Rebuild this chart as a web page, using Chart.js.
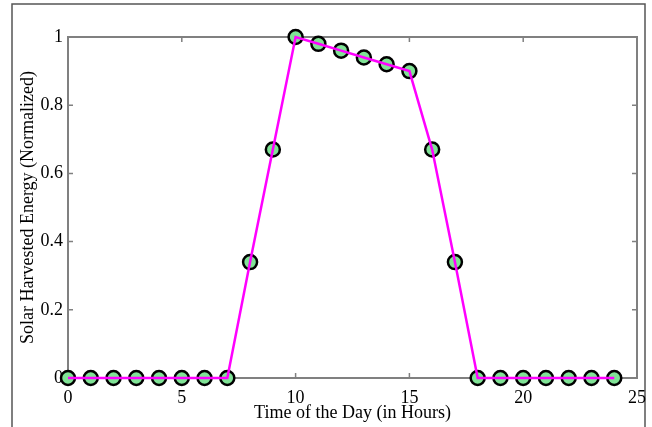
<!DOCTYPE html>
<html>
<head>
<meta charset="utf-8">
<script src="https://cdn.jsdelivr.net/npm/chart.js@4.4.1/dist/chart.umd.min.js"></script>
<style>
  html, body { margin: 0; padding: 0; background: #fff; }
  #wrap { width: 652px; height: 427px; position: relative; }
</style>
</head>
<body>
<div id="wrap"><canvas id="energyChart" width="652" height="427"></canvas></div>
<script>
// hour of day and normalized harvested energy
const hours = [0, 1, 2, 3, 4, 5, 6, 7, 8, 9, 10, 11, 12, 13, 14, 15, 16, 17, 18, 19, 20, 21, 22, 23, 24];
const energy = [0, 0, 0, 0, 0, 0, 0, 0, 0.34, 0.67, 1.0, 0.98, 0.96, 0.94, 0.92, 0.90, 0.67, 0.34, 0, 0, 0, 0, 0, 0, 0];
const xTicks = [0, 5, 10, 15, 20, 25];
const yTicks = [0, 0.2, 0.4, 0.6, 0.8, 1];

const points = hours.map((h, i) => ({ x: h, y: energy[i] }));
const serif = "'Liberation Serif', 'Times New Roman', serif";

// outer frame + matlab-style box with inward ticks on all four sides
const boxPlugin = {
  id: "boxPlugin",
  beforeDraw(chart) {
    const ctx = chart.ctx;
    ctx.save();
    ctx.strokeStyle = "#555";
    ctx.lineWidth = 1.5;
    ctx.beginPath();
    ctx.moveTo(12, 440);
    ctx.lineTo(12, 4);
    ctx.lineTo(645, 4);
    ctx.lineTo(645, 440);
    ctx.stroke();
    ctx.restore();
  },
  beforeDatasetsDraw(chart) {
    const { ctx, chartArea: a, scales } = chart;
    const len = 5;
    ctx.save();
    ctx.strokeStyle = "#808080";
    ctx.lineWidth = 2;
    ctx.strokeRect(a.left, a.top, a.right - a.left, a.bottom - a.top);
    ctx.lineWidth = 1.5;
    ctx.beginPath();
    xTicks.forEach(v => {
      const px = scales.x.getPixelForValue(v);
      ctx.moveTo(px, a.bottom); ctx.lineTo(px, a.bottom - len);
      ctx.moveTo(px, a.top); ctx.lineTo(px, a.top + len);
    });
    yTicks.forEach(v => {
      const py = scales.y.getPixelForValue(v);
      ctx.moveTo(a.left, py); ctx.lineTo(a.left + len, py);
      ctx.moveTo(a.right, py); ctx.lineTo(a.right - len, py);
    });
    ctx.stroke();
    ctx.restore();
  }
};

new Chart(document.getElementById("energyChart"), {
  type: "scatter",
  data: {
    datasets: [
      {
        // markers underneath
        data: points,
        showLine: false,
        clip: false,
        pointRadius: 7,
        pointBorderWidth: 2.5,
        pointBackgroundColor: "#80e396",
        pointBorderColor: "#000",
        order: 2
      },
      {
        // magenta line on top of the markers
        data: points,
        showLine: true,
        clip: false,
        borderColor: "#ff00ff",
        borderWidth: 2.5,
        pointRadius: 0,
        fill: false,
        order: 1
      }
    ]
  },
  options: {
    responsive: false,
    animation: false,
    layout: { padding: { left: 0, right: 15, top: 37, bottom: 0 } },
    plugins: {
      legend: { display: false },
      tooltip: { enabled: false }
    },
    scales: {
      x: {
        type: "linear",
        min: 0,
        max: 25,
        grid: { display: false, drawTicks: false },
        border: { display: false },
        afterBuildTicks: s => { s.ticks = xTicks.map(v => ({ value: v })); },
        afterFit: s => { s.height = 49; s.paddingLeft = 0; s.paddingRight = 0; },
        ticks: {
          color: "#000",
          padding: 9,
          maxRotation: 0,
          font: { family: serif, size: 18 },
          callback: v => String(v)
        },
        title: {
          display: true,
          text: "Time of the Day (in Hours)",
          color: "#000",
          font: { family: serif, size: 18 },
          padding: { top: 0, bottom: 3 }
        }
      },
      y: {
        min: 0,
        max: 1,
        grid: { display: false, drawTicks: false },
        border: { display: false },
        afterBuildTicks: s => { s.ticks = yTicks.map(v => ({ value: v })); },
        afterFit: s => { s.width = 68; },
        ticks: {
          color: "#000",
          padding: 5,
          font: { family: serif, size: 18 },
          callback: v => String(Math.round(v * 10) / 10)
        },
        title: {
          display: true,
          text: "Solar Harvested Energy (Normalized)",
          color: "#000",
          font: { family: serif, size: 18 },
          padding: { top: 17, bottom: 0 }
        }
      }
    }
  },
  plugins: [boxPlugin]
});
</script>
</body>
</html>
